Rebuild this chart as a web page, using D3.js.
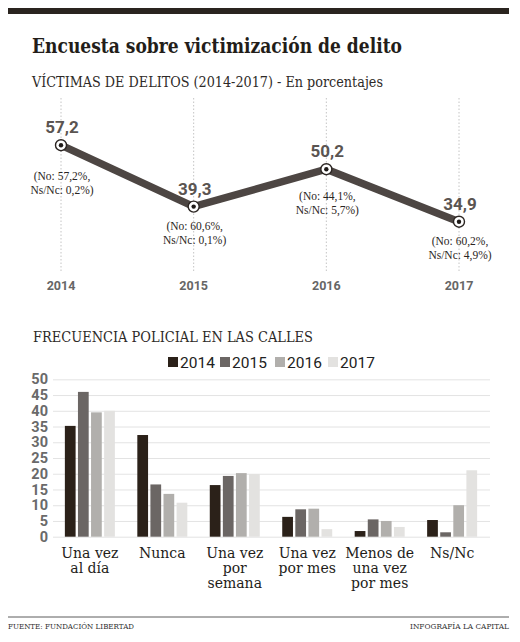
<!DOCTYPE html>
<html>
<head>
<meta charset="utf-8">
<script src="https://cdn.jsdelivr.net/npm/d3@7"></script>
<style>
  body { margin: 0; background: #fff; }
  svg { display: block; }
</style>
</head>
<body>
<div id="chart"></div>
<script>
// Line chart data: victims of crime
const years = ["2014", "2015", "2016", "2017"];
const victimas = [57.2, 39.3, 50.2, 34.9];
const notas = [
  ["(No: 57,2%,", "Ns/Nc: 0,2%)"],
  ["(No: 60,6%,", "Ns/Nc: 0,1%)"],
  ["(No: 44,1%,", "Ns/Nc: 5,7%)"],
  ["(No: 60,2%,", "Ns/Nc: 4,9%)"],
];

// Bar chart data: police presence
const categorias = [
  ["Una vez", "al día"],
  ["Nunca"],
  ["Una vez", "por", "semana"],
  ["Una vez", "por mes"],
  ["Menos de", "una vez", "por mes"],
  ["Ns/Nc"],
];
const serie2014 = [35.2, 32.3, 16.4, 6.3, 1.8, 5.3];
const serie2015 = [46.0, 16.6, 19.3, 8.7, 5.5, 1.4];
const serie2016 = [39.5, 13.6, 20.2, 8.9, 5.0, 10.0];
const serie2017 = [40.0, 10.8, 19.9, 2.4, 3.1, 21.1];
const yTicks = [0, 5, 10, 15, 20, 25, 30, 35, 40, 45, 50];

const colors = { "2014": "#2b2119", "2015": "#6b6664", "2016": "#b1afac", "2017": "#e3e2e0" };
const serif = "'DejaVu Serif', serif";
const sans = "Roboto, 'Open Sans', sans-serif";

const svg = d3.select("#chart").append("svg").attr("width", 520).attr("height", 642);

// header
svg.append("rect").attr("x", 8).attr("y", 8).attr("width", 501).attr("height", 6).attr("fill", "#2a241f");

svg.append("text").attr("x", 32).attr("y", 53)
  .attr("font-family", serif).attr("font-weight", "bold").attr("font-size", 21)
  .attr("textLength", 370).attr("lengthAdjust", "spacingAndGlyphs")
  .attr("fill", "#231d19").text("Encuesta sobre victimización de delito");

svg.append("text").attr("x", 32).attr("y", 87)
  .attr("font-family", serif).attr("font-size", 15)
  .attr("textLength", 351).attr("lengthAdjust", "spacingAndGlyphs")
  .attr("fill", "#2e2a27").text("VÍCTIMAS DE DELITOS (2014-2017) - En porcentajes");

// ---- line chart ----
const x = d3.scalePoint().domain(years).range([61, 459]);
const y = d3.scaleLinear().domain([30, 60]).range([238.5, 135.6]);

const lineData = years.map((yr, i) => ({ year: yr, value: victimas[i], nota: notas[i] }));

svg.append("g").selectAll("line").data(years).join("line")
  .attr("x1", (d) => x(d)).attr("x2", (d) => x(d))
  .attr("y1", 98).attr("y2", 272)
  .attr("stroke", "#b5b5b5").attr("stroke-width", 0.8)
  .attr("stroke-dasharray", "1.5,2");

svg.append("path").datum(lineData)
  .attr("d", d3.line().x((d) => x(d.year)).y((d) => y(d.value)))
  .attr("fill", "none").attr("stroke", "#4d4643").attr("stroke-width", 7.5)
  .attr("stroke-linejoin", "miter");

const pts = svg.append("g").selectAll("g").data(lineData).join("g")
  .attr("transform", (d) => `translate(${x(d.year)},${y(d.value)})`);
pts.append("circle").attr("r", 5.5).attr("fill", "#fff").attr("stroke", "#2b2522").attr("stroke-width", 1.4);
pts.append("circle").attr("r", 2.2).attr("fill", "#1e1a18");

// value labels
svg.append("g").selectAll("text").data(lineData).join("text")
  .attr("x", (d) => x(d.year) + 1)
  .attr("y", (d) => y(d.value) - 12)
  .attr("text-anchor", "middle")
  .attr("font-family", sans).attr("font-weight", "bold").attr("font-size", 17)
  .attr("fill", "#5a5451")
  .text((d) => d.value.toFixed(1).replace(".", ","));

// notes under each point
const notaOffset = [30, 18, 26, 18];
const notaG = svg.append("g").selectAll("text").data(lineData).join("text")
  .attr("text-anchor", "middle")
  .attr("font-family", "'Liberation Serif', serif").attr("font-size", 11.5)
  .attr("fill", "#2a2522");
notaG.selectAll("tspan").data((d, i) => d.nota.map((t) => ({ t, d, i }))).join("tspan")
  .attr("x", (o) => x(o.d.year) + 1)
  .attr("y", (o, j) => y(o.d.value) + notaOffset[o.i] + 5 + j * 14)
  .text((o) => o.t);

// year labels
svg.append("g").selectAll("text").data(years).join("text")
  .attr("x", (d) => x(d)).attr("y", 290)
  .attr("text-anchor", "middle")
  .attr("font-family", sans).attr("font-weight", "bold").attr("font-size", 12.5)
  .attr("fill", "#666")
  .text((d) => d);

// ---- bar chart ----
svg.append("text").attr("x", 33).attr("y", 342)
  .attr("font-family", serif).attr("font-size", 15)
  .attr("textLength", 280).attr("lengthAdjust", "spacingAndGlyphs")
  .attr("fill", "#2e2a27").text("FRECUENCIA POLICIAL EN LAS CALLES");

// legend
const legendX = [168, 220, 275, 328];
const leg = svg.append("g").selectAll("g").data(years).join("g")
  .attr("transform", (d, i) => `translate(${legendX[i]},357)`);
leg.append("rect").attr("width", 10).attr("height", 10).attr("fill", (d) => colors[d]);
leg.append("text").attr("x", 12).attr("y", 10.5)
  .attr("font-family", sans).attr("font-size", 15.5).attr("fill", "#222")
  .text((d) => d);

const by = d3.scaleLinear().domain([0, 50]).range([536.7, 379.3]);
const x0 = d3.scaleBand().domain(d3.range(categorias.length)).range([54, 488])
  .paddingInner(0.31).paddingOuter(0.15);
const x1 = d3.scaleBand().domain(years).range([0, x0.bandwidth()]).paddingInner(0.18);

const grid = svg.append("g").attr("transform", "translate(53,0)")
  .call(d3.axisLeft(by).tickValues(yTicks).tickSize(-437).tickFormat(""));
grid.select(".domain").remove();
grid.selectAll(".tick line").attr("stroke", "#dcdcdc").attr("stroke-width", 0.8);

const yAxis = svg.append("g").attr("transform", "translate(48,0)")
  .call(d3.axisLeft(by).tickValues(yTicks).tickSize(0).tickPadding(0));
yAxis.select(".domain").remove();
yAxis.selectAll("text")
  .attr("font-family", sans).attr("font-weight", "bold").attr("font-size", 14.5)
  .attr("fill", "#6a6a6a");

const series = { "2014": serie2014, "2015": serie2015, "2016": serie2016, "2017": serie2017 };
const groups = svg.append("g").selectAll("g").data(categorias).join("g")
  .attr("transform", (d, i) => `translate(${x0(i)},0)`);
groups.selectAll("rect")
  .data((d, i) => years.map((yr) => ({ yr, v: series[yr][i] })))
  .join("rect")
  .attr("x", (d) => x1(d.yr))
  .attr("width", x1.bandwidth())
  .attr("y", (d) => by(d.v))
  .attr("height", (d) => by(0) - by(d.v))
  .attr("fill", (d) => colors[d.yr]);

// category labels
const catText = svg.append("g").selectAll("text").data(categorias).join("text")
  .attr("text-anchor", "middle")
  .attr("font-family", serif).attr("font-size", 14)
  .attr("fill", "#231d19");
catText.selectAll("tspan").data((d, i) => d.map((t) => ({ t, i }))).join("tspan")
  .attr("x", (o) => x0(o.i) + x0.bandwidth() / 2)
  .attr("y", (o, j) => 558 + j * 15)
  .text((o) => o.t);

// footer
svg.append("line").attr("x1", 8).attr("x2", 509).attr("y1", 617).attr("y2", 617)
  .attr("stroke", "#333").attr("stroke-width", 0.8);
svg.append("text").attr("x", 8).attr("y", 629)
  .attr("font-family", serif).attr("font-size", 8)
  .attr("textLength", 126).attr("lengthAdjust", "spacingAndGlyphs")
  .attr("fill", "#333").text("FUENTE: FUNDACIÓN LIBERTAD");
svg.append("text").attr("x", 509).attr("y", 629).attr("text-anchor", "end")
  .attr("font-family", serif).attr("font-size", 8)
  .attr("textLength", 99).attr("lengthAdjust", "spacingAndGlyphs")
  .attr("fill", "#333").text("INFOGRAFÍA LA CAPITAL");
</script>
</body>
</html>
